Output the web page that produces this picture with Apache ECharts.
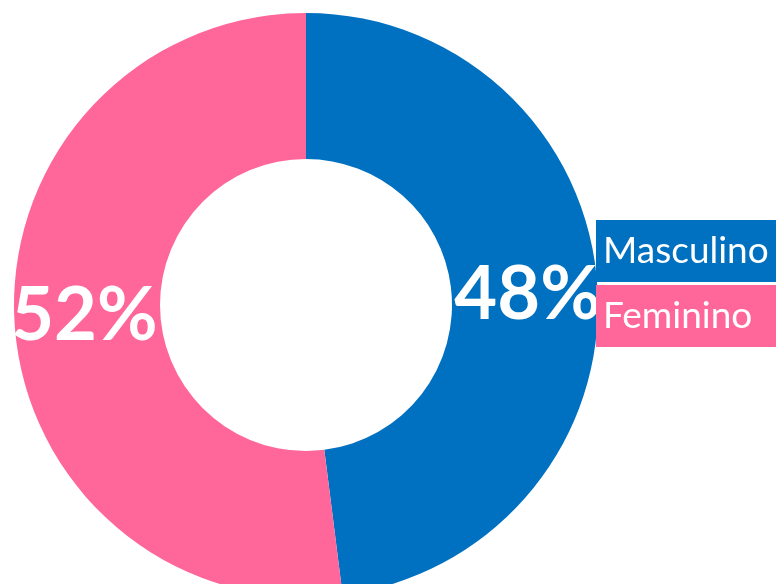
<!DOCTYPE html>
<html>
    <head>
        <meta charset='utf-8'>
        <title>ECharts</title>
        <script src='https://cdn.jsdelivr.net/npm/echarts@6/dist/echarts.min.js'></script>
        <style>html,body{margin:0;padding:0;background:#fff;}</style>
    </head>
    <body>
    <div id='main' style='width: 776px;height:584px;'></div>
    <script type='text/javascript'>
    var categories = ['Masculino', 'Feminino'];
    var values = [48, 52];
    var colors = ['#0070C0', '#FF6699'];
    var labelOffsets = [[0, 4], [0, -3]];

    var myChart = echarts.init(document.getElementById('main'));

    var option = {
        animation: false,
        legend: {
            orient: 'vertical',
            left: 591,
            top: 220,
            padding: 0,
            itemGap: 3,
            itemWidth: 0,
            itemHeight: 0,
            icon: 'none',
            selectedMode: false,
            data: categories.map(function (name, i) {
                return {
                    name: name,
                    textStyle: {
                        color: '#fff',
                        fontFamily: 'Lato',
                        fontSize: 37,
                        backgroundColor: colors[i],
                        width: 180,
                        height: 62,
                        lineHeight: 62,
                        padding: [0, 0, 0, 7]
                    }
                };
            })
        },
        series: [
            {
                type: 'pie',
                center: [306, 305],
                radius: [146, 292],
                startAngle: 90,
                clockwise: true,
                silent: true,
                label: {
                    position: 'inside',
                    color: '#fff',
                    fontFamily: 'Lato',
                    fontWeight: 'bold',
                    fontSize: 74,
                    formatter: function (p) {
                        return Math.round(p.percent) + '%';
                    }
                },
                labelLine: { show: false },
                data: categories.map(function (name, i) {
                    return {
                        name: name,
                        value: values[i],
                        itemStyle: { color: colors[i] },
                        label: { offset: labelOffsets[i] }
                    };
                })
            }
        ]
    };

    myChart.setOption(option);
    </script>
    </body>
</html>
